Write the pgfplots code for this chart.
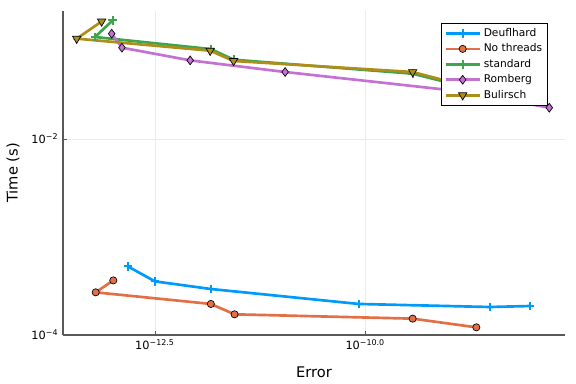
\documentclass[border=0pt]{standalone}
\usepackage{fontspec}
\setmainfont{DejaVu Sans}
\usepackage{pgfplots}
\pgfplotsset{compat=1.18}
\definecolor{c1}{HTML}{009AFA}
\definecolor{c2}{HTML}{E36F47}
\definecolor{c3}{HTML}{3EA44E}
\definecolor{c4}{HTML}{C371D2}
\definecolor{c5}{HTML}{AC8E18}
\begin{document}
\begin{tikzpicture}
\path (-47.25pt,-36.75pt) rectangle (384.75pt,251.25pt);
\begin{axis}[
  at={(0,0)}, anchor=south west, scale only axis,
  width=376.5pt, height=243pt,
  xmode=log, ymode=log,
  xmin=2.553e-14, xmax=2.371e-8, ymin=0.99e-4, ymax=0.2037,
  axis lines=left, axis line style={-, black!65, line width=0.8pt},
  xtick={3.1623e-13,1e-10}, xticklabels={10\textsuperscript{−12.5},10\textsuperscript{−10.0}},
  ytick={1e-4,1e-2}, yticklabels={10\textsuperscript{−4},10\textsuperscript{−2}},
  minor xtick={}, minor ytick={},
  grid=major, major grid style={black!8, line width=0.5pt},
  tick align=inside, major tick length=3pt, tick style={black!65, line width=0.6pt},
  ticklabel style={font=\fontsize{8.5}{10}\selectfont},
  xlabel={Error}, ylabel={Time (s)},
  label style={font=\fontsize{11}{13}\selectfont},
  xlabel style={at={(axis description cs:0.5,-0.1142)}, anchor=center},
  ylabel style={at={(axis description cs:-0.0996,0.5)}, anchor=center},
  legend style={at={(axis description cs:0.966,0.964)}, anchor=north east,
    draw=black, line width=0.6pt, font=\fontsize{8}{9.5}\selectfont,
    cells={anchor=west}, inner sep=2pt},
  legend image code/.code={\draw[mark repeat=2,mark phase=2] plot coordinates {(0cm,0cm) (0.45cm,0cm) (0.9cm,0cm)};},
]
\addplot[c1, line width=2pt, mark=+, mark size=3.3pt, mark options={line width=1.6pt}] coordinates {
 (1.510e-13,4.977e-4) (3.162e-13,3.50e-4) (1.462e-12,2.924e-4) (8.375e-11,2.056e-4) (3.034e-9,1.914e-4) (9.057e-9,1.959e-4)};
\addlegendentry{Deuflhard}
\addplot[c2, line width=2pt, mark=*, mark size=2.7pt, mark options={fill=c2, draw=black, line width=0.5pt}] coordinates {
 (1.012e-13,3.581e-4) (6.252e-14,2.704e-4) (1.462e-12,2.056e-4) (2.799e-12,1.611e-4) (3.664e-10,1.455e-4) (2.094e-9,1.186e-4)};
\addlegendentry{No threads}
\addplot[c3, line width=2pt, mark=+, mark size=3.3pt, mark options={line width=1.6pt}] coordinates {
 (9.954e-14,0.1633) (6.124e-14,0.1104) (1.452e-12,0.08318) (2.742e-12,0.06471) (3.664e-10,0.04656) (2.109e-9,0.03192)};
\addlegendentry{standard}
\addplot[c4, line width=2pt, mark=diamond*, mark size=3.3pt, mark options={fill=c4, draw=black, line width=0.5pt}] coordinates {
 (9.683e-14,0.1194) (1.282e-13,0.08590) (8.299e-13,0.06368) (1.117e-11,0.04842) (1.324e-9,0.03083) (1.542e-8,0.02089)};
\addlegendentry{Romberg}
\addplot[c5, line width=2pt, mark=triangle*, mark size=3.6pt, mark options={rotate=180, fill=c5, draw=black, line width=0.5pt}] coordinates {
 (7.362e-14,0.1592) (3.715e-14,0.1062) (1.435e-12,0.07998) (2.723e-12,0.06281) (3.664e-10,0.04842) (2.109e-9,0.03266)};
\addlegendentry{Bulirsch}
\end{axis}
\end{tikzpicture}
\end{document}
